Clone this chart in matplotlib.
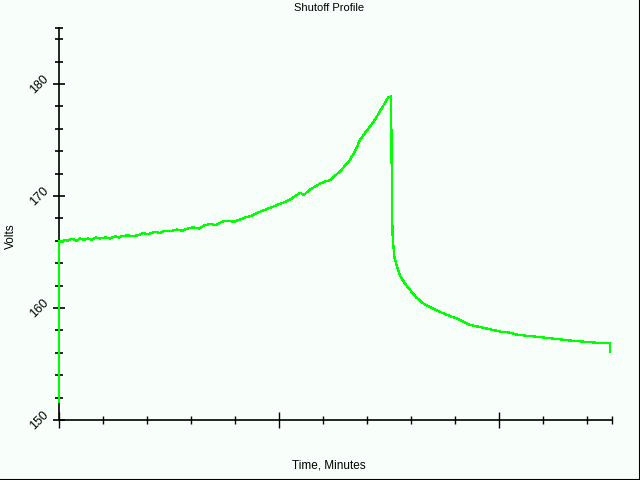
import matplotlib.pyplot as plt
from matplotlib.lines import Line2D
from matplotlib.ticker import FixedLocator, NullFormatter

# Values (minutes, volts)
time_min = [0.00, 0.00, 0.07, 0.14, 0.20, 0.30, 0.39, 0.48, 0.57, 0.66, 0.75, 0.84,
            0.93, 1.05, 1.16, 1.27, 1.36, 1.43, 1.55, 1.66, 1.80, 1.91, 2.02, 2.18,
            2.30, 2.41, 2.57, 2.68, 2.80, 2.93, 3.05, 3.18, 3.32, 3.45, 3.57, 3.70,
            3.84, 3.98, 4.11, 4.25, 4.36, 4.45, 4.57, 4.70, 4.84, 5.02, 5.16, 5.30,
            5.48, 5.57, 5.68, 5.80, 5.93, 6.05, 6.16, 6.27, 6.39, 6.50, 6.61, 6.73,
            6.84, 6.95, 7.07, 7.18, 7.30, 7.41, 7.48, 7.55, 7.56, 7.58, 7.60, 7.62,
            7.68, 7.75, 7.86, 7.98, 8.13, 8.32, 8.58, 8.81, 9.08, 9.34, 9.57, 9.80,
            10.02, 10.25, 10.43, 10.70, 10.93, 11.16, 11.39, 11.61, 11.91, 12.23,
            12.52, 12.52]
volts = [151.6, 166.0, 165.9, 166.1, 166.0, 166.2, 166.0, 166.2, 166.1, 166.2, 166.1, 166.3,
         166.2, 166.3, 166.2, 166.4, 166.3, 166.4, 166.5, 166.4, 166.5, 166.7, 166.6, 166.8,
         166.7, 166.9, 166.9, 167.0, 166.9, 167.1, 167.2, 167.1, 167.4, 167.5, 167.4, 167.7,
         167.8, 167.7, 167.9, 168.1, 168.2, 168.4, 168.6, 168.8, 169.0, 169.3, 169.5, 169.8,
         170.3, 170.1, 170.5, 170.8, 171.1, 171.3, 171.4, 171.8, 172.2, 172.7, 173.2, 174.0,
         175.0, 175.6, 176.2, 176.8, 177.6, 178.3, 178.8, 178.9, 173.1, 166.7, 165.6, 164.6,
         163.7, 162.9, 162.2, 161.6, 160.9, 160.3, 159.8, 159.4, 159.0, 158.5, 158.3, 158.1,
         157.9, 157.8, 157.6, 157.5, 157.4, 157.3, 157.2, 157.1, 157.0, 156.9,
         156.9, 156.1]

y_major = [150, 160, 170, 180]
y_minor = [152, 154, 156, 158, 162, 164, 166, 168, 172, 174, 176, 178, 182, 184, 185]
x_major = [0, 5, 10]
x_minor = [1, 2, 3, 4, 6, 7, 8, 9, 11, 12, 12.57]

bg = '#f8fffb'
plt.rcParams['font.family'] = ['Liberation Sans', 'DejaVu Sans']

fig = plt.figure(figsize=(6.4, 4.8), dpi=100, facecolor=bg)
ax = fig.add_axes([59 / 640, 60 / 480, 553 / 640, 392 / 480], facecolor=bg)

ax.plot(time_min, volts, color='#00ff00', lw=0.9, antialiased=False,
        zorder=3, clip_on=False)

ax.set_xlim(0, 12.57)
ax.set_ylim(150, 185)
for s in ['top', 'right']:
    ax.spines[s].set_visible(False)
for s in ['left', 'bottom']:
    ax.spines[s].set_color('black')
    ax.spines[s].set_linewidth(1.2)

ax.yaxis.set_major_locator(FixedLocator(y_major))
ax.yaxis.set_minor_locator(FixedLocator(y_minor))
ax.xaxis.set_major_locator(FixedLocator(x_major))
ax.xaxis.set_minor_locator(FixedLocator(x_minor))
ax.xaxis.set_major_formatter(NullFormatter())
ax.tick_params(axis='y', which='major', direction='inout', length=8, width=1.2,
               labelsize=9, pad=2)
ax.tick_params(axis='y', which='minor', direction='inout', length=6, width=1.2)
ax.tick_params(axis='x', which='major', direction='inout', length=12, width=1)
ax.tick_params(axis='x', which='minor', direction='inout', length=6, width=1)
for lbl in ax.get_yticklabels():
    lbl.set_rotation(45)
    lbl.set_ha('right')
    lbl.set_va('center')

fig.text(329 / 640, 1 - 8 / 480, 'Shutoff Profile', ha='center', va='center', fontsize=8)
fig.text(329 / 640, 1 - 465 / 480, 'Time, Minutes', ha='center', va='center', fontsize=8.5)
fig.text(11 / 640, 1 - 236 / 480, 'Volts', ha='center', va='center', fontsize=8.5,
         rotation=90)

# window frame on right and bottom
fig.add_artist(Line2D([0, 1], [0.5 / 480, 0.5 / 480], color='black', lw=1.5,
                      transform=fig.transFigure))
fig.add_artist(Line2D([1 - 0.5 / 640, 1 - 0.5 / 640], [0, 1], color='black', lw=1.5,
                      transform=fig.transFigure))

fig.savefig('out.png', dpi=100, facecolor=bg)
